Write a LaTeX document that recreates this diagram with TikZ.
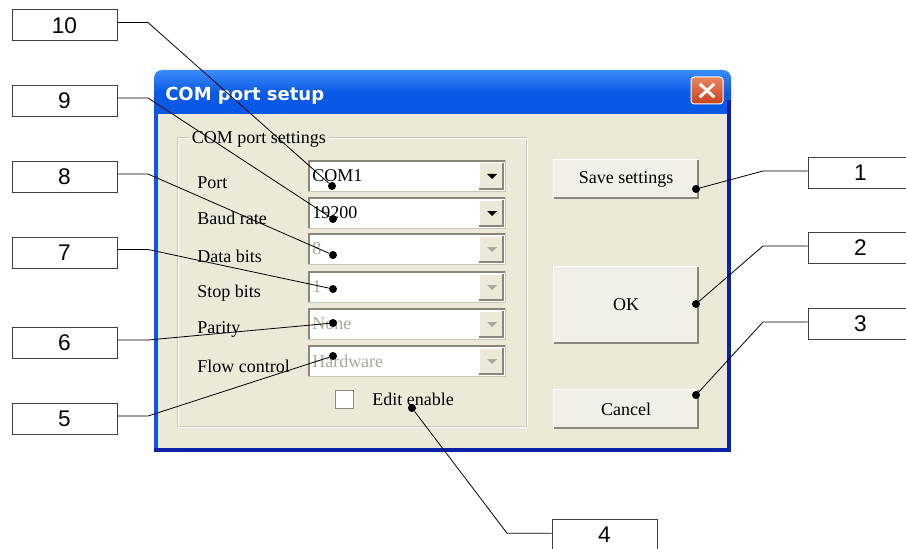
\documentclass[tikz,border=0pt]{standalone}
\usepackage{fontspec}
\setmainfont{Liberation Serif}
\newfontfamily\lblfont{Liberation Sans}
\newfontfamily\titlefont{DejaVu Sans}
\definecolor{xpbeige}{HTML}{ECE9D8}
\definecolor{xpbtn}{HTML}{F1EFE6}
\definecolor{xpgrey}{HTML}{ACA899}
\definecolor{xpdark}{HTML}{8A877A}
\definecolor{xpline}{HTML}{C9C6B6}
\definecolor{xpblue}{HTML}{0A58E6}
\definecolor{xpblueL}{HTML}{3A8CFA}
\definecolor{xpnavy}{HTML}{0A22A8}
\definecolor{xpredT}{HTML}{E98763}
\definecolor{xpredB}{HTML}{C9401C}
\begin{document}
\begin{tikzpicture}[x=0.75pt,y=-0.75pt,
  numbox/.style={draw=black!75, line width=0.75pt, fill=white, minimum width=78.75pt, minimum height=23.25pt, inner sep=0pt, font=\lblfont\fontsize{17}{17}\selectfont},
  dot/.style={circle, fill=black, minimum size=6pt, inner sep=0pt},
  leader/.style={line width=0.6pt, black},
  uitext/.style={font=\fontsize{13.5}{15}\selectfont, inner sep=0pt, anchor=west},
  xpbutton/.style={fill=xpbtn, inner sep=0pt, font=\fontsize{13.5}{15}\selectfont},
]
\useasboundingbox (0,0) rectangle (906,549);
\clip (0,0) rectangle (906,549);

% ---------- window ----------
\fill[xpblue] (154,90) rectangle (731,452);
\shade[top color=xpblueL, bottom color=xpblue, middle color=xpblue, rounded corners=6pt] (154,70) rectangle (731,116);
\fill[xpnavy] (727,100) rectangle (731,452);
\fill[xpnavy] (154,448) rectangle (731,452);
\fill[xpbeige] (158,114) rectangle (727,448);

\node[anchor=west, text=white, inner sep=0pt, font=\titlefont\bfseries\fontsize{13.5}{15}\selectfont] (title) at (165,96) {COM port setup};

\node[draw=white, line width=0.75pt, rounded corners=2.5pt, top color=xpredT, bottom color=xpredB, minimum width=24pt, minimum height=20.25pt, inner sep=0pt] (close) at (707,90.5) {};
\draw[white, line width=2.2pt] ([shift={(-5.5pt,5pt)}]close.center) -- ([shift={(5.5pt,-5pt)}]close.center);
\draw[white, line width=2.2pt] ([shift={(-5.5pt,-5pt)}]close.center) -- ([shift={(5.5pt,5pt)}]close.center);

% ---------- group box ----------
\draw[xpline, line width=0.75pt] (177,138) rectangle (526,426);
\draw[white, line width=0.75pt] (178,139) rectangle (527,427);
\node[uitext, fill=xpbeige, inner xsep=2pt, inner ysep=1pt] (grp) at (189,139) {COM port settings};

% labels
\node[uitext] (lport) at (197,183) {Port};
\node[uitext] (lbaud) at (197,218) {Baud rate};
\node[uitext] (ldata) at (197,256) {Data bits};
\node[uitext] (lstop) at (197,293) {Stop bits};
\node[uitext] (lpar)  at (197,329) {Parity};
\node[uitext] (lflow) at (197,366) {Flow control};

% combo boxes
\foreach \t/\txt/\col [count=\i] in {160/COM1/black, 197/19200/black, 233/8/xpgrey, 271/1/xpgrey, 308/None/xpgrey, 345/Hardware/xpgrey} {
  \fill[white] (308,\t) rectangle (505,\t+31);
  \draw[xpdark, line width=1.5pt] (308.5,\t+31) -- (308.5,\t+1) -- (505,\t+1);
  \draw[xpline, line width=0.75pt] (308,\t+31) -- (505,\t+31) -- (505,\t);
  \fill[xpbeige] (479,\t+3) rectangle (503,\t+29);
  \draw[white, line width=0.75pt] (479,\t+29) |- (503,\t+3);
  \draw[xpdark, line width=1.5pt] (479,\t+29) -| (503,\t+3);
  \fill[\col] (487,\t+14) -- (497,\t+14) -- (492,\t+19) -- cycle;
  \node[uitext, text=\col] (cb\i) at (312,\t+16) {\txt};
}

% checkbox
\node[draw=xpdark, line width=0.75pt, fill=white, minimum size=13.5pt, inner sep=0pt] (chk) at (344.5,399) {};
\node[uitext] (ledit) at (372,399) {Edit enable};

% buttons
\node[xpbutton, minimum width=108pt, minimum height=28.5pt] (bsave) at (626,179) {Save settings};
\node[xpbutton, minimum width=108pt, minimum height=57pt] (bok) at (626,305) {OK};
\node[xpbutton, minimum width=108pt, minimum height=28.5pt] (bcancel) at (626,409) {Cancel};
\foreach \b in {bsave,bok,bcancel} {
  \draw[white, line width=1pt] (\b.south west) |- (\b.north east);
  \draw[xpdark, line width=1.5pt] (\b.south west) -| (\b.north east);
}

% ---------- dots ----------
\node[dot] (d10) at (332,186) {};
\node[dot] (d9) at (333,219) {};
\node[dot] (d8) at (333,255) {};
\node[dot] (d7) at (333,289) {};
\node[dot] (d6) at (333,323) {};
\node[dot] (d5) at (333,356) {};
\node[dot] (d4) at (412,408) {};
\node[dot] (d1) at (696,189) {};
\node[dot] (d2) at (696,304) {};
\node[dot] (d3) at (696,395) {};

% ---------- number boxes ----------
\node[numbox] (n10) at (64.5,25.5) {10};
\node[numbox] (n9) at (64.5,101) {9};
\node[numbox] (n8) at (64.5,177) {8};
\node[numbox] (n7) at (64.5,252.5) {7};
\node[numbox] (n6) at (64.5,343) {6};
\node[numbox] (n5) at (64.5,419) {5};
\node[numbox] (n1) at (860.5,173) {1};
\node[numbox] (n2) at (860.5,248) {2};
\node[numbox] (n3) at (860.5,324) {3};
\node[numbox] (n4) at (604.5,534.5) {4};

\coordinate (bl) at (148,0);
\coordinate (br) at (763,0);
\coordinate (b4) at (507,0);

\foreach \n in {10,9,8,7,6,5} {
  \coordinate (a\n) at ([yshift=2.25pt]n\n.east);
  \draw[leader] (a\n) -- (a\n -| bl) -- (d\n);
}
\foreach \n in {1,2,3} {
  \coordinate (a\n) at ([yshift=1.5pt]n\n.west);
  \draw[leader] (a\n) -- (a\n -| br) -- (d\n);
}
\coordinate (a4) at ([yshift=1pt]n4.west);
\draw[leader] (a4) -- (a4 -| b4) -- (d4);
\end{tikzpicture}
\end{document}
